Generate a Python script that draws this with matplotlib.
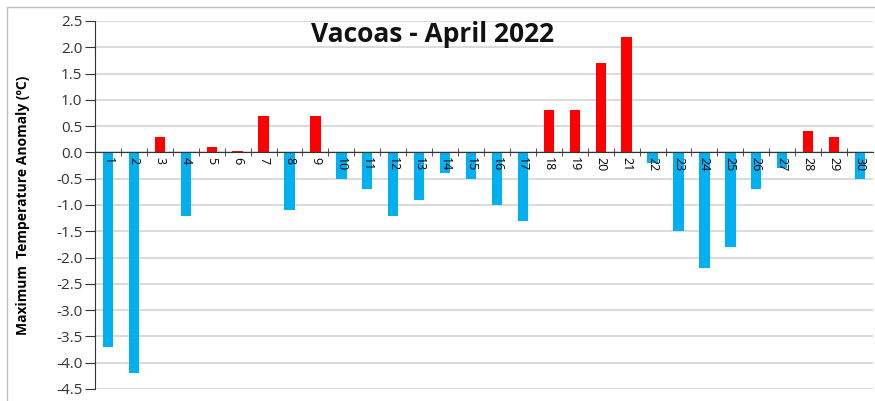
import numpy as np
import matplotlib.pyplot as plt
from matplotlib.patches import Rectangle

# Anomalies journalières de température maximale, Vacoas, avril 2022
days = list(range(1, 31))
anomaly = [-3.7, -4.2, 0.3, -1.2, 0.1, 0.03, 0.7, -1.1, 0.7, -0.5,
           -0.7, -1.2, -0.9, -0.4, -0.5, -1.0, -1.3, 0.8, 0.8, 1.7,
           2.2, -0.2, -1.5, -2.2, -1.8, -0.7, -0.3, 0.4, 0.3, -0.5]
y_ticks = np.arange(-4.5, 2.51, 0.5)

plt.rcParams['font.family'] = ['Open Sans', 'DejaVu Sans']

fig = plt.figure(figsize=(8.75, 4.01), dpi=100)
ax = fig.add_axes([95 / 875, 1 - 389 / 401, 778 / 875, 368 / 401])

colors = ['#FF0000' if v > 0 else '#00B0F0' for v in anomaly]
ax.bar(days, anomaly, width=0.4, color=colors, zorder=3)

ax.set_xlim(0.5, 30.5)
ax.set_ylim(-4.5, 2.5)
ax.set_yticks(y_ticks)
ax.set_yticklabels([f'{v:.1f}' for v in y_ticks], fontsize=11, color='#333333')
ax.yaxis.grid(True, color='#D4D4D4', linewidth=1.2)
ax.yaxis.set_zorder(0.5)
ax.xaxis.set_zorder(5)

# axe x sur la ligne zéro, libellés tournés
ax.spines['bottom'].set_position(('data', 0))
ax.spines['bottom'].set_color('#333333')
ax.spines['bottom'].set_zorder(4)
ax.spines['left'].set_color('#333333')
ax.spines['top'].set_visible(False)
ax.spines['right'].set_visible(False)
ax.set_xticks(days)
ax.set_xticklabels([str(d) for d in days], rotation=270, fontsize=9)
ax.tick_params(axis='x', which='major', length=0, pad=3)
ax.set_xticks(np.arange(1.5, 30, 1), minor=True)
ax.tick_params(axis='x', which='minor', length=6, direction='inout', color='#333333')
ax.tick_params(axis='y', length=7, direction='out', pad=2, color='#333333')

ax.set_ylabel('Maximum  Temperature Anomaly (ºC)', fontsize=10, fontweight='bold')
ax.yaxis.set_label_coords(-0.083, 0.5)

fig.text(433 / 875, 1 - 34 / 401, 'Vacoas - April 2022', ha='center', va='center',
         fontsize=19, fontweight='bold', color='#111111')

# cadre extérieur (bas et droite hors image)
fig.patches.append(Rectangle((7 / 875, -0.1), 1.2, 1.1 - 7 / 401, transform=fig.transFigure,
                             fill=False, edgecolor='#BFBFBF', linewidth=1))

fig.savefig('out.png', dpi=100)
